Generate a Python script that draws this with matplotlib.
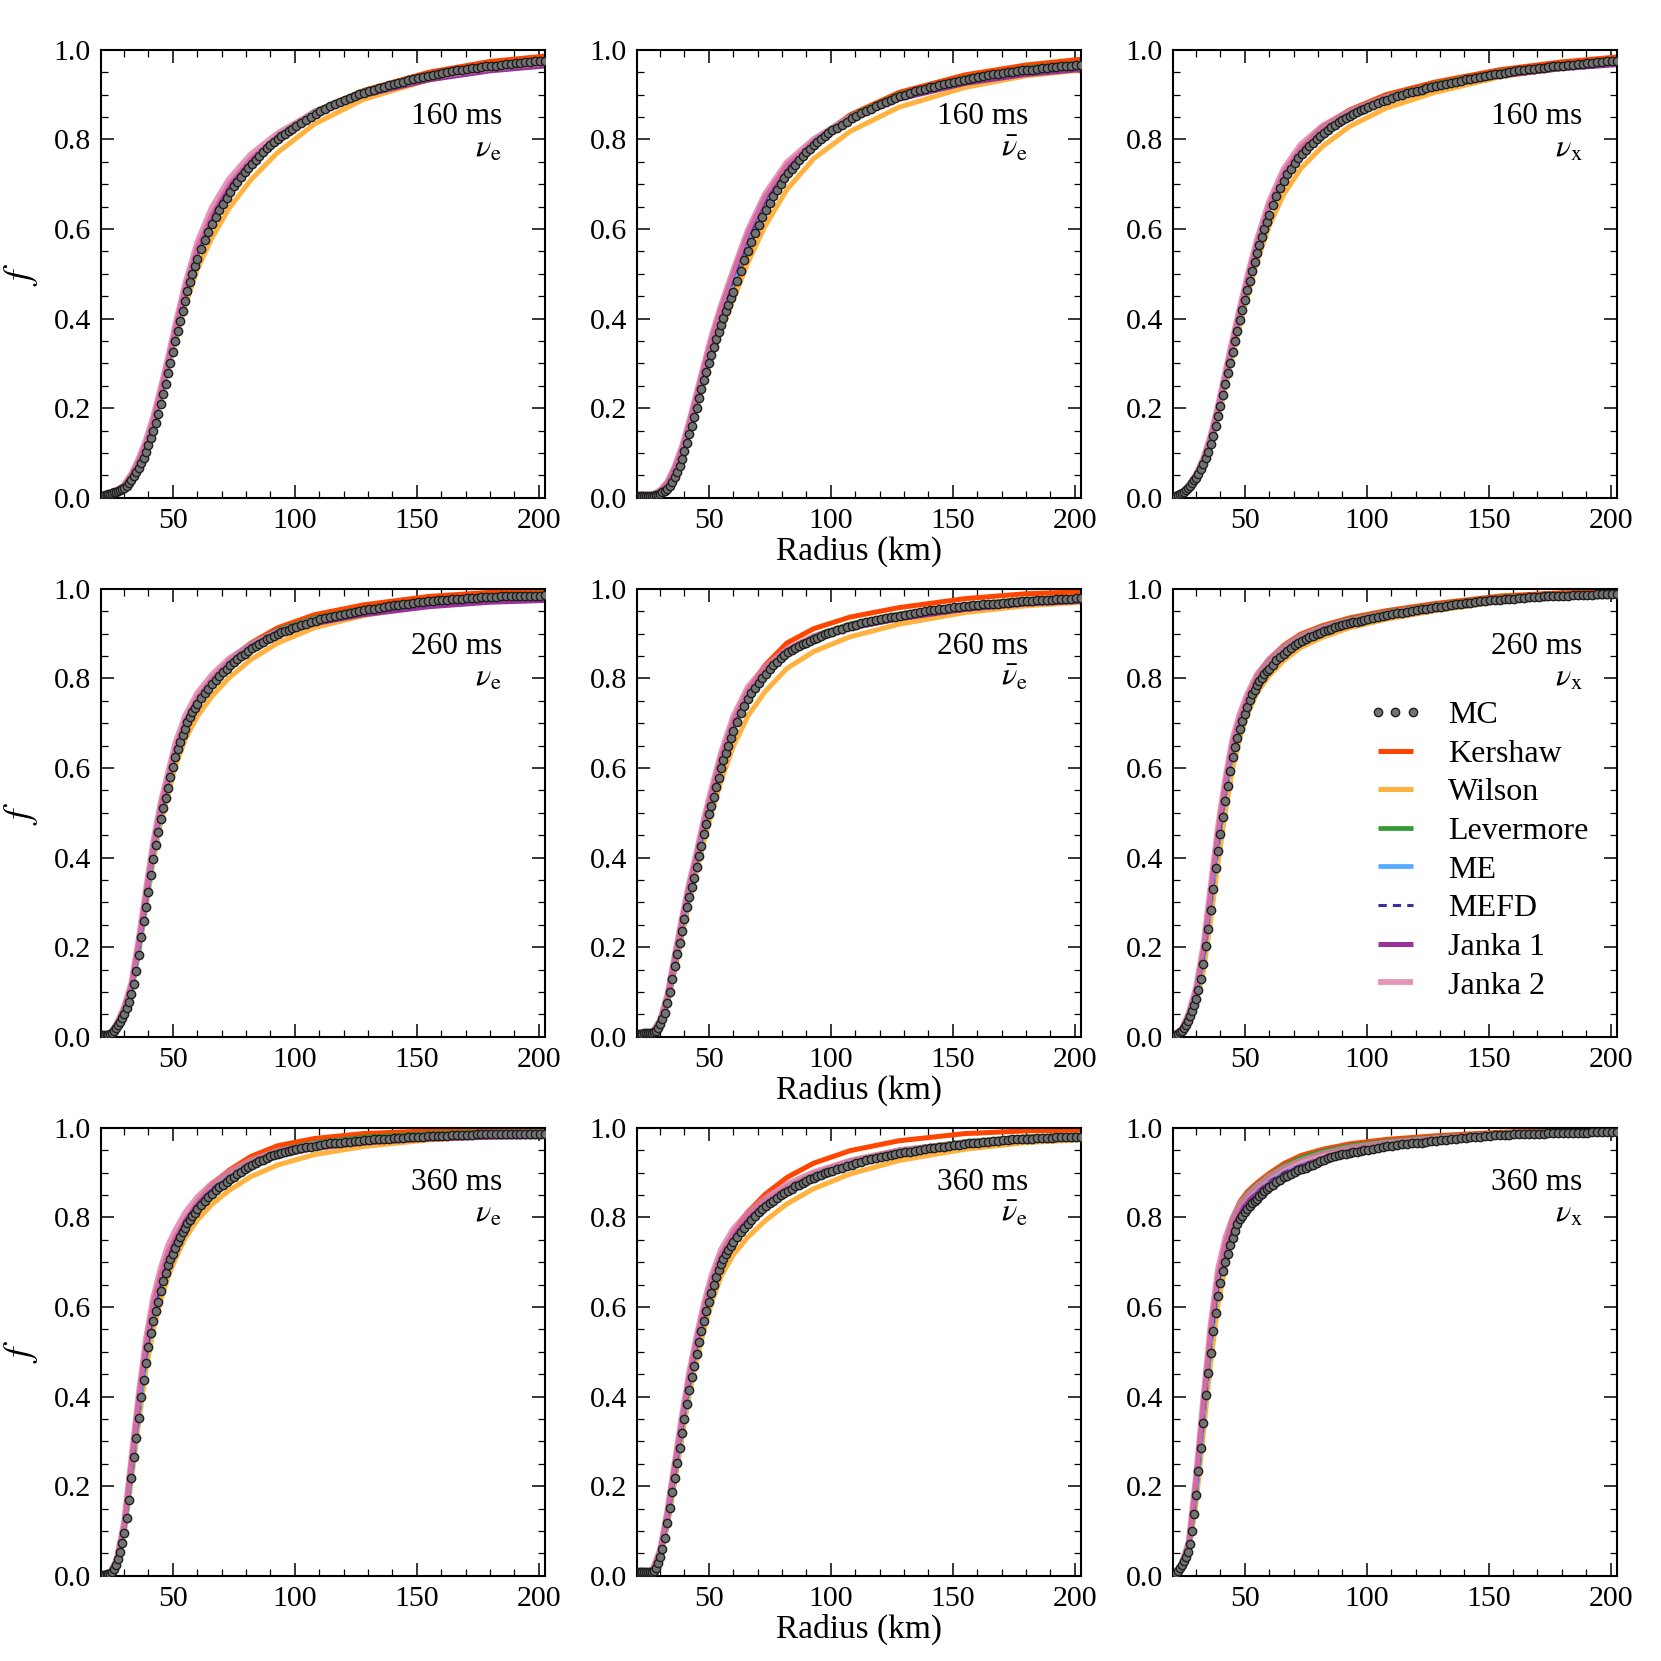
import matplotlib
matplotlib.use("Agg")
import matplotlib.pyplot as plt
from matplotlib.ticker import MultipleLocator, FormatStrFormatter

plt.rcParams['font.family'] = ['Liberation Serif', 'DejaVu Serif']
plt.rcParams['mathtext.fontset'] = 'stix'

# ---------------- radii (km) ----------------
R_MC = [20.4, 21.2, 22.0, 22.8, 23.6, 24.4, 25.2, 26.0, 26.8, 27.6, 28.4, 29.2, 30.0,
        31, 32, 33, 34, 35, 36, 37, 38, 39, 40, 41, 42, 43, 44, 45, 46, 47, 48, 49, 50,
        51, 52, 53, 54, 55, 56, 57, 58, 59, 60,
        61.5, 63, 64.5, 66, 67.5, 69, 70.5, 72, 73.5, 75, 76.5, 78, 79.5, 81, 82.5, 84,
        85.5, 87, 88.5, 90, 91.5, 93, 94.5, 96, 97.5, 99, 100.5,
        102.5, 104.5, 106.5, 108.5, 110.5, 112.5, 114.5, 116.5, 118.5, 120.5, 122.5, 124.5,
        126.5, 128.5, 130.5, 132.5, 134.5, 136.5, 138.5, 140.5, 142.5, 144.5, 146.5, 148.5,
        150.5, 152.5, 154.5, 156.5, 158.5, 160.5, 162.5, 164.5, 166.5, 168.5, 170.5, 172.5,
        174.5, 176.5, 178.5, 180.5, 182.5, 184.5, 186.5, 188.5, 190.5, 192.5, 194.5, 196.5,
        198.5, 200.5, 202.6]
R_MOD = [20.4, 24, 27, 30, 33, 36, 39, 42, 45, 48, 51, 55, 60, 66, 73, 82, 93, 108, 128, 155, 180, 202.6]

# ---------------- Monte Carlo ----------------
MC_160_nue = [.005,.005,.006,.007,.008,.009,.010,.012,.013,.015,.017,.019,.022,
    .027,.033,.040,.049,.058,.067,.078,.090,.103,.118,.134,.150,.168,.188,.210,.232,.255,.278,.302,.325,.349,.372,.395,.418,.440,.461,.481,.500,.518,.534,
    .555,.575,.594,.611,.627,.642,.657,.670,.683,.695,.706,.717,.727,.737,.746,.755,.764,.772,.780,.787,.794,.800,.807,.813,.819,.824,.830,
    .837,.844,.851,.857,.863,.869,.875,.880,.884,.889,.893,.897,.901,.904,.908,.911,.914,.917,.921,.924,.926,.929,.932,.934,.937,.939,.942,.944,.946,.948,.950,.952,.954,.956,.957,.959,.960,.962,.963,.964,.965,.966,.968,.969,.970,.971,.972,.973,.974,.975,.976]
MC_160_anue = [.004,.004,.004,.004,.004,.004,.004,.004,.005,.005,.006,.007,.009,
    .012,.015,.020,.027,.036,.047,.058,.071,.087,.104,.123,.142,.161,.180,.201,.222,.242,.262,.281,.300,.319,.337,.354,.370,.386,.401,.416,.430,.445,.460,
    .484,.507,.530,.552,.572,.592,.610,.627,.643,.659,.674,.688,.701,.713,.724,.734,.744,.753,.762,.771,.779,.787,.794,.801,.807,.814,.820,
    .826,.833,.839,.847,.853,.858,.864,.869,.875,.880,.884,.889,.893,.897,.900,.903,.907,.910,.913,.916,.918,.921,.923,.926,.928,.930,.933,.935,.937,.939,.941,.943,.945,.947,.948,.950,.951,.953,.954,.955,.956,.957,.959,.960,.961,.962,.963,.964,.965,.966,.967]
MC_160_nux = [.002,.003,.005,.007,.009,.011,.014,.018,.022,.027,.033,.039,.045,
    .054,.064,.075,.088,.103,.120,.139,.160,.182,.206,.230,.254,.278,.302,.326,.349,.373,.396,.419,.441,.463,.485,.506,.527,.546,.565,.583,.600,.616,.632,
    .653,.673,.691,.707,.722,.735,.747,.758,.768,.777,.785,.793,.801,.808,.815,.821,.827,.832,.838,.843,.848,.852,.857,.861,.865,.868,.872,
    .877,.881,.885,.889,.893,.896,.899,.903,.906,.909,.911,.914,.917,.919,.922,.924,.927,.929,.931,.934,.936,.938,.940,.942,.943,.945,.947,.949,.951,.952,.954,.955,.957,.958,.959,.960,.962,.963,.964,.965,.966,.967,.968,.969,.970,.971,.972,.973,.974,.975,.976]
MC_260_nue = [.003,.003,.003,.004,.005,.006,.009,.014,.020,.027,.034,.043,.052,
    .064,.078,.096,.118,.146,.183,.222,.258,.290,.324,.362,.398,.428,.457,.487,.511,.533,.555,.580,.603,.624,.643,.658,.673,.688,.702,.713,.724,.734,.743,
    .756,.767,.777,.787,.797,.806,.815,.822,.829,.836,.843,.849,.855,.861,.867,.872,.877,.882,.887,.891,.895,.899,.903,.906,.909,.912,.915,
    .919,.922,.925,.929,.932,.935,.937,.940,.942,.944,.946,.948,.950,.952,.954,.956,.958,.960,.961,.963,.964,.966,.967,.969,.970,.971,.972,.973,.974,.975,.976,.977,.977,.978,.979,.979,.980,.981,.981,.982,.982,.983,.983,.984,.984,.984,.985,.985,.985,.985,.986]
MC_260_anue = [.006,.006,.007,.007,.008,.008,.008,.008,.009,.010,.013,.019,.028,
    .040,.054,.075,.100,.128,.157,.184,.210,.236,.262,.289,.313,.334,.355,.378,.403,.427,.452,.476,.497,.516,.536,.557,.578,.599,.617,.634,.650,.666,.682,
    .702,.722,.739,.754,.767,.779,.790,.800,.810,.820,.829,.837,.845,.852,.858,.863,.868,.872,.876,.880,.884,.888,.891,.895,.898,.901,.904,
    .907,.910,.914,.917,.920,.923,.926,.928,.930,.932,.934,.936,.938,.940,.942,.944,.946,.948,.950,.952,.953,.955,.956,.957,.959,.960,.961,.962,.963,.964,.965,.966,.967,.967,.968,.969,.970,.971,.972,.973,.973,.974,.975,.975,.976,.977,.977,.978,.978,.979,.979]
MC_260_nux = [.002,.003,.004,.007,.010,.014,.019,.026,.035,.046,.058,.070,.085,
    .104,.128,.162,.202,.240,.283,.330,.376,.414,.452,.490,.526,.559,.593,.624,.648,.668,.688,.705,.721,.737,.752,.765,.775,.785,.794,.802,.810,.816,.822,
    .831,.840,.848,.855,.862,.868,.874,.879,.884,.888,.892,.895,.899,.902,.905,.908,.911,.914,.917,.919,.921,.923,.925,.927,.929,.931,.933,
    .935,.937,.939,.941,.943,.945,.947,.949,.951,.952,.954,.956,.957,.959,.960,.962,.964,.965,.967,.968,.969,.971,.972,.973,.974,.975,.976,.977,.978,.978,.979,.980,.981,.981,.982,.983,.983,.984,.984,.985,.985,.986,.986,.987,.987,.987,.988,.988,.988,.988,.988]
MC_360_nue = [.002,.002,.002,.003,.003,.005,.009,.015,.025,.038,.054,.073,.095,
    .128,.170,.218,.265,.308,.352,.398,.437,.474,.511,.543,.568,.591,.612,.636,.657,.676,.693,.707,.719,.731,.744,.756,.767,.777,.787,.795,.803,.810,.818,
    .827,.836,.845,.853,.861,.867,.873,.879,.885,.891,.896,.902,.907,.912,.917,.921,.925,.929,.933,.936,.939,.941,.944,.946,.948,.950,.952,
    .954,.956,.958,.960,.962,.963,.965,.966,.967,.968,.969,.970,.971,.972,.973,.974,.975,.976,.976,.977,.978,.978,.979,.979,.980,.980,.981,.981,.982,.982,.982,.983,.983,.984,.984,.984,.985,.985,.985,.985,.985,.986,.986,.986,.986,.986,.986,.986,.986,.986,.986]
MC_360_anue = [.008,.008,.008,.008,.008,.008,.008,.008,.009,.011,.018,.028,.042,
    .060,.085,.118,.152,.186,.218,.252,.285,.318,.351,.384,.415,.443,.469,.496,.522,.546,.569,.591,.612,.632,.650,.667,.682,.695,.707,.718,.728,.737,.745,
    .756,.767,.777,.786,.795,.803,.811,.818,.825,.831,.837,.843,.849,.854,.859,.864,.869,.873,.877,.881,.885,.888,.892,.895,.898,.901,.904,
    .907,.911,.914,.918,.921,.924,.927,.930,.932,.935,.937,.939,.941,.943,.945,.947,.949,.951,.952,.954,.955,.957,.958,.960,.961,.962,.964,.965,.966,.967,.968,.969,.970,.971,.972,.973,.974,.975,.975,.976,.976,.977,.977,.978,.978,.979,.979,.979,.980,.980,.980]
MC_360_nux = [.002,.004,.007,.011,.017,.024,.032,.042,.054,.072,.100,.138,.180,
    .235,.285,.342,.404,.453,.497,.546,.586,.625,.653,.681,.701,.719,.739,.754,.770,.786,.796,.803,.811,.819,.826,.831,.836,.842,.848,.853,.858,.863,.867,
    .873,.879,.884,.889,.893,.897,.901,.905,.908,.911,.914,.917,.921,.925,.929,.932,.935,.937,.939,.941,.942,.944,.945,.947,.948,.950,.951,
    .953,.955,.957,.959,.960,.961,.963,.964,.965,.966,.967,.969,.970,.971,.972,.973,.975,.976,.977,.978,.979,.980,.980,.981,.982,.983,.983,.984,.984,.985,.985,.986,.986,.987,.987,.987,.988,.988,.988,.988,.989,.989,.989,.989,.989,.990,.990,.990,.990,.990,.990]

# ---------------- closures (on R_MOD) ----------------
KER_160_nue = [.003,.006,.014,.026,.046,.075,.113,.162,.223,.291,.361,.450,.543,.620,.685,.748,.805,.862,.909,.950,.974,.986]
WIL_160_nue = [.003,.006,.015,.028,.050,.080,.118,.165,.222,.285,.347,.428,.510,.580,.646,.710,.771,.834,.889,.933,.957,.970]
LEV_160_nue = [.003,.006,.014,.026,.047,.077,.116,.166,.227,.295,.366,.456,.548,.625,.692,.754,.809,.863,.908,.946,.967,.979]
ME_160_nue = [.003,.006,.014,.026,.047,.077,.116,.166,.227,.295,.367,.458,.550,.627,.693,.754,.808,.861,.906,.943,.964,.976]
MEFD_160_nue = [.003,.006,.014,.026,.047,.077,.116,.166,.228,.296,.368,.459,.551,.628,.694,.754,.808,.861,.905,.942,.963,.975]
J1_160_nue = [.003,.006,.015,.028,.051,.083,.123,.173,.237,.305,.377,.466,.557,.633,.698,.757,.806,.856,.898,.933,.953,.964]
J2_160_nue = [.003,.006,.016,.030,.054,.088,.130,.182,.245,.313,.386,.477,.570,.648,.711,.767,.814,.861,.903,.938,.958,.970]

KER_160_anue = [.002,.004,.006,.012,.026,.053,.092,.144,.200,.258,.315,.384,.462,.556,.645,.728,.795,.855,.905,.944,.966,.979]
WIL_160_anue = [.002,.004,.007,.014,.030,.060,.100,.150,.203,.258,.310,.372,.442,.525,.606,.688,.757,.818,.872,.916,.942,.955]
LEV_160_anue = [.002,.004,.007,.013,.028,.058,.100,.154,.214,.276,.335,.404,.480,.573,.658,.737,.798,.853,.901,.938,.960,.971]
ME_160_anue = [.002,.004,.007,.013,.028,.058,.101,.156,.216,.278,.338,.408,.485,.578,.661,.738,.797,.851,.898,.934,.956,.967]
MEFD_160_anue = [.002,.004,.007,.013,.028,.058,.101,.156,.217,.279,.339,.409,.486,.579,.662,.738,.797,.850,.897,.933,.955,.966]
J1_160_anue = [.002,.004,.008,.016,.034,.067,.111,.167,.229,.292,.352,.423,.500,.590,.670,.742,.795,.845,.890,.925,.945,.956]
J2_160_anue = [.002,.004,.008,.017,.036,.070,.115,.172,.235,.298,.359,.430,.508,.598,.678,.749,.801,.851,.896,.931,.952,.963]

KER_160_nux = [.002,.010,.024,.047,.079,.126,.190,.263,.336,.406,.474,.558,.645,.722,.781,.829,.866,.900,.928,.956,.973,.984]
WIL_160_nux = [.002,.010,.023,.044,.073,.116,.175,.245,.316,.384,.448,.527,.607,.678,.735,.785,.829,.870,.905,.940,.959,.970]
LEV_160_nux = [.002,.010,.024,.047,.079,.126,.190,.263,.337,.408,.476,.561,.648,.724,.781,.827,.863,.896,.924,.952,.968,.978]
ME_160_nux = [.002,.010,.024,.047,.079,.126,.190,.264,.338,.409,.477,.561,.647,.722,.778,.823,.859,.892,.920,.949,.965,.976]
MEFD_160_nux = [.002,.010,.024,.047,.079,.126,.190,.264,.338,.409,.477,.561,.647,.722,.778,.823,.859,.892,.920,.949,.965,.975]
J1_160_nux = [.002,.011,.026,.051,.085,.134,.199,.273,.347,.418,.486,.569,.653,.726,.780,.823,.857,.888,.915,.942,.958,.967]
J2_160_nux = [.002,.011,.027,.053,.089,.140,.206,.281,.355,.426,.494,.577,.662,.735,.789,.831,.864,.895,.921,.948,.963,.972]

KER_260_nue = [.002,.005,.024,.056,.104,.193,.300,.406,.493,.560,.628,.693,.750,.797,.839,.879,.913,.942,.964,.983,.992,.995]
WIL_260_nue = [.002,.005,.024,.055,.100,.186,.290,.393,.477,.540,.603,.663,.715,.760,.801,.842,.879,.913,.940,.964,.976,.981]
LEV_260_nue = [.002,.005,.024,.056,.104,.194,.302,.410,.498,.566,.634,.698,.753,.799,.839,.876,.908,.935,.956,.975,.985,.989]
ME_260_nue = [.002,.005,.024,.056,.104,.194,.302,.410,.499,.567,.636,.700,.755,.799,.838,.874,.905,.932,.953,.972,.982,.986]
MEFD_260_nue = [.002,.005,.024,.056,.104,.194,.302,.410,.499,.567,.636,.700,.755,.799,.838,.874,.905,.931,.952,.971,.981,.985]
J1_260_nue = [.002,.006,.028,.064,.116,.210,.320,.427,.513,.578,.643,.704,.756,.798,.834,.867,.896,.922,.942,.960,.970,.974]
J2_260_nue = [.002,.006,.030,.067,.121,.218,.330,.437,.523,.589,.655,.716,.767,.808,.844,.877,.905,.931,.951,.969,.979,.983]

KER_260_anue = [.003,.004,.008,.026,.072,.150,.228,.305,.373,.449,.518,.605,.694,.772,.829,.879,.911,.937,.958,.978,.989,.993]
WIL_260_anue = [.003,.004,.009,.030,.078,.158,.234,.307,.370,.437,.496,.571,.648,.716,.770,.822,.860,.893,.921,.947,.962,.970]
LEV_260_anue = [.003,.004,.009,.030,.080,.163,.245,.323,.391,.465,.531,.614,.697,.768,.819,.864,.895,.922,.944,.965,.977,.982]
ME_260_anue = [.003,.004,.009,.030,.080,.163,.245,.324,.393,.467,.533,.616,.699,.769,.819,.863,.893,.919,.941,.962,.974,.979]
MEFD_260_anue = [.003,.004,.009,.030,.080,.163,.245,.324,.393,.467,.533,.616,.699,.769,.819,.863,.893,.919,.940,.961,.973,.978]
J1_260_anue = [.003,.004,.011,.036,.090,.177,.260,.338,.406,.479,.543,.624,.705,.772,.818,.859,.887,.912,.933,.954,.966,.972]
J2_260_anue = [.003,.004,.012,.038,.094,.182,.266,.345,.413,.487,.552,.634,.715,.781,.826,.866,.894,.919,.940,.960,.972,.977]

KER_260_nux = [.002,.013,.044,.093,.175,.300,.432,.545,.641,.707,.757,.806,.843,.874,.899,.918,.935,.951,.967,.984,.991,.994]
WIL_260_nux = [.002,.011,.036,.076,.145,.258,.387,.500,.598,.668,.719,.768,.806,.840,.869,.892,.913,.932,.951,.972,.981,.985]
LEV_260_nux = [.002,.013,.044,.093,.175,.300,.432,.545,.641,.706,.755,.803,.840,.871,.896,.915,.932,.948,.964,.981,.988,.991]
ME_260_nux = [.002,.013,.044,.093,.175,.300,.432,.545,.641,.704,.751,.797,.832,.862,.888,.908,.926,.942,.959,.977,.985,.988]
MEFD_260_nux = [.002,.013,.044,.093,.175,.300,.432,.545,.641,.704,.751,.797,.832,.862,.888,.908,.926,.942,.959,.977,.985,.988]
J1_260_nux = [.002,.015,.050,.104,.192,.322,.455,.565,.656,.712,.754,.797,.830,.858,.884,.904,.922,.938,.954,.972,.980,.983]
J2_260_nux = [.002,.016,.053,.110,.202,.335,.468,.576,.666,.722,.765,.809,.843,.871,.895,.914,.930,.946,.962,.979,.986,.989]

KER_360_nue = [.001,.003,.030,.098,.226,.362,.485,.577,.643,.700,.741,.790,.835,.873,.905,.936,.960,.976,.987,.993,.995,.996]
WIL_360_nue = [.001,.003,.028,.092,.212,.342,.460,.550,.614,.667,.707,.753,.794,.829,.860,.891,.917,.940,.958,.973,.980,.983]
LEV_360_nue = [.001,.003,.031,.100,.230,.368,.492,.585,.651,.707,.746,.792,.833,.868,.897,.926,.950,.967,.979,.987,.990,.991]
ME_360_nue = [.001,.003,.031,.100,.230,.368,.493,.588,.655,.711,.749,.793,.832,.865,.893,.921,.945,.962,.974,.983,.986,.987]
MEFD_360_nue = [.001,.003,.031,.100,.230,.368,.493,.588,.655,.711,.749,.793,.832,.865,.893,.921,.945,.962,.974,.982,.986,.987]
J1_360_nue = [.001,.004,.036,.114,.253,.395,.518,.609,.672,.722,.755,.794,.829,.860,.887,.914,.937,.954,.966,.975,.979,.980]
J2_360_nue = [.001,.004,.038,.120,.262,.406,.530,.622,.686,.737,.771,.810,.845,.876,.902,.928,.949,.964,.975,.983,.986,.987]

KER_360_anue = [.004,.004,.009,.040,.114,.212,.312,.412,.497,.574,.642,.711,.766,.812,.851,.889,.921,.949,.971,.987,.993,.995]
WIL_360_anue = [.004,.004,.010,.044,.120,.218,.314,.405,.481,.549,.608,.668,.716,.756,.792,.830,.864,.897,.927,.952,.967,.973]
LEV_360_anue = [.004,.004,.011,.046,.126,.229,.332,.430,.512,.585,.648,.711,.761,.801,.836,.869,.898,.926,.950,.969,.980,.984]
ME_360_anue = [.004,.004,.011,.046,.126,.229,.332,.431,.514,.588,.651,.713,.762,.801,.835,.867,.896,.923,.947,.966,.977,.981]
MEFD_360_anue = [.004,.004,.011,.046,.126,.229,.332,.431,.514,.588,.651,.713,.762,.801,.835,.867,.896,.922,.946,.965,.976,.980]
J1_360_anue = [.004,.005,.014,.055,.140,.246,.350,.447,.527,.598,.658,.717,.763,.800,.832,.864,.892,.918,.942,.960,.971,.975]
J2_360_anue = [.004,.005,.015,.058,.146,.253,.358,.456,.536,.608,.668,.728,.774,.811,.843,.874,.901,.927,.950,.967,.977,.980]

KER_360_nux = [.001,.020,.060,.185,.355,.520,.655,.741,.797,.835,.857,.877,.898,.920,.938,.952,.964,.974,.982,.990,.994,.995]
WIL_360_nux = [.001,.018,.052,.160,.318,.475,.606,.689,.748,.790,.815,.840,.865,.888,.907,.925,.941,.955,.968,.981,.986,.988]
LEV_360_nux = [.001,.020,.060,.185,.355,.520,.655,.740,.795,.832,.853,.873,.894,.915,.933,.948,.960,.970,.979,.988,.992,.993]
ME_360_nux = [.001,.020,.060,.185,.355,.520,.652,.732,.783,.817,.837,.858,.880,.900,.917,.934,.949,.961,.972,.984,.988,.990]
MEFD_360_nux = [.001,.020,.060,.185,.355,.520,.652,.732,.783,.817,.837,.858,.880,.900,.917,.934,.949,.961,.972,.984,.988,.990]
J1_360_nux = [.001,.024,.072,.212,.383,.545,.670,.740,.785,.815,.833,.853,.875,.895,.913,.931,.946,.959,.970,.981,.985,.987]
J2_360_nux = [.001,.025,.076,.222,.396,.560,.684,.754,.800,.831,.850,.870,.892,.911,.927,.943,.956,.967,.977,.987,.990,.991]

TIMES = ['160 ms', '260 ms', '360 ms']
SPECIES = [r'$\nu_{\rm e}$', r'$\bar{\nu}_{\rm e}$', r'$\nu_{\rm x}$']
MODEL_NAMES = ['Kershaw', 'Wilson', 'Levermore', 'ME', 'MEFD', 'Janka 1', 'Janka 2']

MC_ROWS = [[MC_160_nue, MC_160_anue, MC_160_nux],
           [MC_260_nue, MC_260_anue, MC_260_nux],
           [MC_360_nue, MC_360_anue, MC_360_nux]]
MODEL_ROWS = [
    [[KER_160_nue, WIL_160_nue, LEV_160_nue, ME_160_nue, MEFD_160_nue, J1_160_nue, J2_160_nue],
     [KER_160_anue, WIL_160_anue, LEV_160_anue, ME_160_anue, MEFD_160_anue, J1_160_anue, J2_160_anue],
     [KER_160_nux, WIL_160_nux, LEV_160_nux, ME_160_nux, MEFD_160_nux, J1_160_nux, J2_160_nux]],
    [[KER_260_nue, WIL_260_nue, LEV_260_nue, ME_260_nue, MEFD_260_nue, J1_260_nue, J2_260_nue],
     [KER_260_anue, WIL_260_anue, LEV_260_anue, ME_260_anue, MEFD_260_anue, J1_260_anue, J2_260_anue],
     [KER_260_nux, WIL_260_nux, LEV_260_nux, ME_260_nux, MEFD_260_nux, J1_260_nux, J2_260_nux]],
    [[KER_360_nue, WIL_360_nue, LEV_360_nue, ME_360_nue, MEFD_360_nue, J1_360_nue, J2_360_nue],
     [KER_360_anue, WIL_360_anue, LEV_360_anue, ME_360_anue, MEFD_360_anue, J1_360_anue, J2_360_anue],
     [KER_360_nux, WIL_360_nux, LEV_360_nux, ME_360_nux, MEFD_360_nux, J1_360_nux, J2_360_nux]],
]

STYLES = {
    'Kershaw':   dict(color='#FF4500', lw=3.6),
    'Wilson':    dict(color='#FFB23F', lw=3.6),
    'Levermore': dict(color='#339933', lw=3.4),
    'ME':        dict(color='#55AAFF', lw=3.4),
    'MEFD':      dict(color='#333399', lw=2.2, ls=(0, (2.7, 2.0))),
    'Janka 1':   dict(color='#993399', lw=3.6),
    'Janka 2':   dict(color='#E07BA6', lw=4.2, alpha=0.8),
}

TEXT_X = [0.903, 0.881, 0.922]
MS_Y = [0.835, 0.854, 0.861]
SP_Y = [0.762, 0.783, 0.790]

fig, axes = plt.subplots(3, 3, figsize=(16.61, 16.61), dpi=100)
fig.subplots_adjust(left=0.0606, right=0.9735, bottom=0.0513, top=0.970,
                    wspace=0.206, hspace=0.203)

for i in range(3):
    for j in range(3):
        ax = axes[i][j]
        for name, ys in zip(MODEL_NAMES, MODEL_ROWS[i][j]):
            n = min(len(R_MOD), len(ys))
            ax.plot(R_MOD[:n], ys[:n], label=name, zorder=2, solid_capstyle='butt',
                    solid_joinstyle='round', **STYLES[name])
        mc = MC_ROWS[i][j]
        n = min(len(R_MC), len(mc))
        ax.plot(R_MC[:n], mc[:n], ls='none', marker='o', ms=6.0, mfc='#737373',
                mec='#1e1e1e', mew=1.0, label='MC', zorder=4)
        ax.set_xlim(20.4, 202.6)
        ax.set_ylim(0, 1)
        ax.xaxis.set_major_locator(MultipleLocator(50))
        ax.xaxis.set_minor_locator(MultipleLocator(10))
        ax.yaxis.set_major_locator(MultipleLocator(0.2))
        ax.yaxis.set_minor_locator(MultipleLocator(0.05))
        ax.yaxis.set_major_formatter(FormatStrFormatter('%.1f'))
        ax.tick_params(which='both', direction='in', top=True, right=True, labelsize=21.5, pad=7)
        ax.tick_params(which='major', length=9.5, width=1.1)
        ax.tick_params(which='minor', length=5, width=0.9)
        for s in ax.spines.values():
            s.set_linewidth(1.5)
        ax.text(TEXT_X[j], MS_Y[i], TIMES[i], transform=ax.transAxes, ha='right',
                va='baseline', fontsize=22.5)
        ax.text(TEXT_X[j], SP_Y[i], SPECIES[j], transform=ax.transAxes, ha='right',
                va='baseline', fontsize=23)
        if j == 0:
            ax.set_ylabel(r'$f$', fontsize=27)
            ax.yaxis.set_label_coords(-0.137, 0.5)
        if j == 1:
            ax.set_xlabel('Radius (km)', fontsize=24)
            ax.xaxis.set_label_coords(0.5, -0.085)

ax = axes[1][2]
h, l = ax.get_legend_handles_labels()
order = [l.index('MC')] + [l.index(n) for n in MODEL_NAMES]
ax.legend([h[k] for k in order], [l[k] for k in order], loc='upper left',
          bbox_to_anchor=(0.44, 0.750), frameon=False, numpoints=3,
          handlelength=1.7, handletextpad=0.8, labelspacing=0.29,
          borderpad=0, borderaxespad=0, fontsize=23)

fig.savefig('out.png', dpi=100)
